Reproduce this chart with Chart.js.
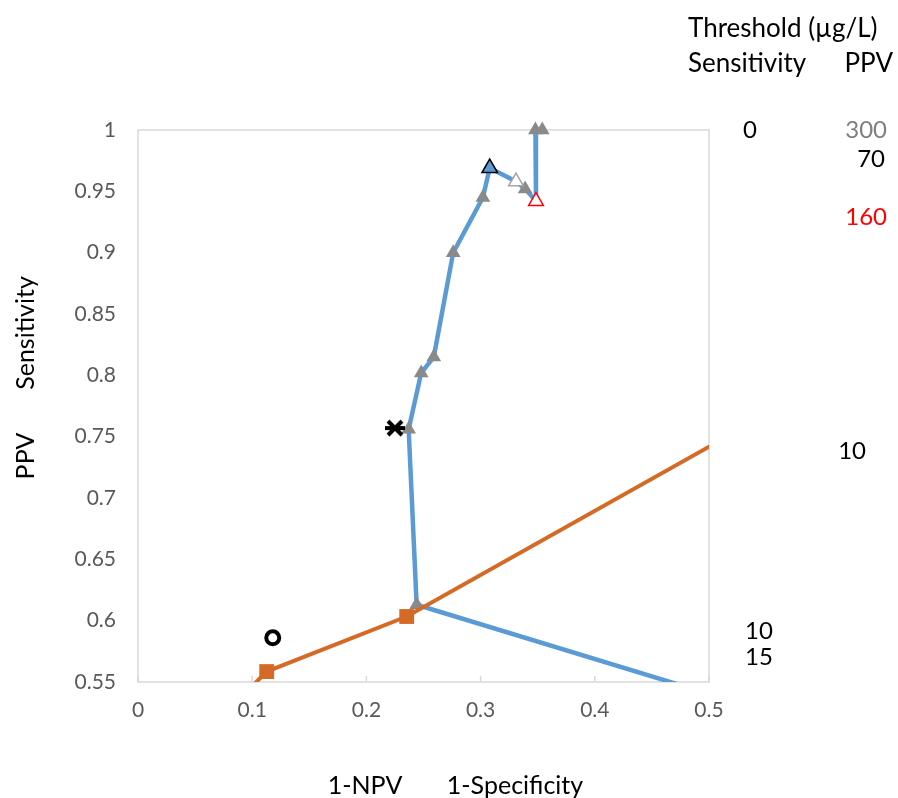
<!DOCTYPE html>
<html>
<head>
<meta charset="utf-8">
<script src="https://cdn.jsdelivr.net/npm/chart.js@4.4.1/dist/chart.umd.min.js"></script>
<style>
  html, body { margin: 0; padding: 0; background: #fff; }
  #wrap { width: 898px; height: 798px; }
</style>
</head>
<body>
<div id="wrap"><canvas id="chart"></canvas></div>
<script>
'use strict';

// ---- data ----
// blue curve (sensitivity vs 1-specificity), in line order
const curveX = [0.354, 0.348, 0.3485, 0.339, 0.331, 0.308, 0.302, 0.276, 0.259, 0.248, 0.237, 0.244, 0.60];
const curveY = [1.000, 1.000, 0.942, 0.952, 0.958, 0.969, 0.945, 0.900, 0.815, 0.802, 0.756, 0.613, 0.512];
// grey triangle markers on the curve
const triX = [0.354, 0.348, 0.339, 0.302, 0.276, 0.259, 0.248, 0.237, 0.244];
const triY = [1.000, 1.000, 0.952, 0.945, 0.900, 0.815, 0.802, 0.756, 0.613];
// highlighted thresholds
const blackTri = [0.308, 0.969];
const openGreyTri = [0.331, 0.958];
const redTri = [0.3485, 0.942];
// orange line (PPV vs 1-NPV)
const ppvX = [0.05, 0.1127, 0.2353, 0.60];
const ppvY = [0.500, 0.5585, 0.6034, 0.794];
// single points
const starPt = [0.225, 0.757];
const circlePt = [0.118, 0.586];

const xTicks = [0, 0.1, 0.2, 0.3, 0.4, 0.5];
const yTicks = [0.55, 0.6, 0.65, 0.7, 0.75, 0.8, 0.85, 0.9, 0.95, 1];

// threshold annotations (µg/L)
const sensLabels = ['0', '10', '15'];
const sensAt = [1.0, 0.591, 0.5705];
const ppvLabels = ['300', '70', '160', '10'];
const ppvAt = [1.0, 0.976, 0.929, 0.738];

// ---- styling / layout ----
const BLUE = '#5B9BD5';
const ORANGE = '#D56A26';
const GREY = '#8A8A8A';
const FONT = 'Lato, "Open Sans", sans-serif';
const ppvColors = ['#7F7F7F', '#000', '#FF0000', '#000'];
const ppvRight = [887, 885, 887, 866];
const sensLeft = [743, 745, 745];

function pts(xs, ys) {
  return xs.map((x, i) => ({ x, y: ys[i] }));
}

function asterisk() {
  const c = document.createElement('canvas');
  c.width = 22; c.height = 22;
  const g = c.getContext('2d');
  g.strokeStyle = '#000';
  g.lineWidth = 4;
  g.beginPath();
  g.moveTo(4, 4); g.lineTo(18, 18);
  g.moveTo(18, 4); g.lineTo(4, 18);
  g.moveTo(1, 11); g.lineTo(21, 11);
  g.stroke();
  return c;
}

const overlay = {
  id: 'overlay',
  beforeDatasetsDraw(chart) {
    const { ctx, chartArea: a, scales: { x } } = chart;
    ctx.save();
    ctx.strokeStyle = '#D9D9D9';
    ctx.lineWidth = 1.5;
    ctx.strokeRect(a.left, a.top, a.width, a.height);
    ctx.beginPath();
    xTicks.forEach(v => {
      const px = x.getPixelForValue(v);
      ctx.moveTo(px, a.bottom);
      ctx.lineTo(px, a.bottom - 6);
    });
    ctx.stroke();
    ctx.restore();
  },
  afterDraw(chart) {
    const { ctx, scales: { y } } = chart;
    ctx.save();
    ctx.font = '26px ' + FONT;
    ctx.fillStyle = '#000';
    ctx.textBaseline = 'alphabetic';
    ctx.textAlign = 'left';
    ctx.fillText('Threshold (µg/L)', 688, 37);
    ctx.fillText('Sensitivity', 688, 72);
    ctx.textAlign = 'right';
    ctx.fillText('PPV', 893, 72);

    ctx.font = '24px ' + FONT;
    ctx.textBaseline = 'middle';
    ctx.textAlign = 'left';
    sensLabels.forEach((t, i) => ctx.fillText(t, sensLeft[i], y.getPixelForValue(sensAt[i])));
    ctx.textAlign = 'right';
    ppvLabels.forEach((t, i) => {
      ctx.fillStyle = ppvColors[i];
      ctx.fillText(t, ppvRight[i], y.getPixelForValue(ppvAt[i]));
    });

    // axis titles
    ctx.font = '25px ' + FONT;
    ctx.fillStyle = '#000';
    ctx.textAlign = 'center';
    ctx.textBaseline = 'alphabetic';
    ctx.fillText('1-NPV', 365, 794);
    ctx.fillText('1-Specificity', 515, 794);
    ctx.translate(34, 0);
    ctx.rotate(-Math.PI / 2);
    ctx.fillText('Sensitivity', -333, 0);
    ctx.fillText('PPV', -456, 0);
    ctx.restore();
  }
};

new Chart(document.getElementById('chart'), {
  type: 'scatter',
  data: {
    datasets: [
      { data: [{ x: circlePt[0], y: circlePt[1] }], pointStyle: 'circle', pointRadius: 6.5,
        backgroundColor: '#fff', borderColor: '#000', borderWidth: 4, clip: false },
      { data: [{ x: starPt[0], y: starPt[1] }], pointStyle: asterisk(), pointRadius: 10, clip: false },
      { data: [{ x: blackTri[0], y: blackTri[1] }], pointStyle: 'triangle', pointRadius: 9,
        backgroundColor: BLUE, borderColor: '#000', borderWidth: 1.5, clip: false },
      { data: [{ x: openGreyTri[0], y: openGreyTri[1] }], pointStyle: 'triangle', pointRadius: 8.5,
        backgroundColor: '#fff', borderColor: '#A6A6A6', borderWidth: 1.5, clip: false },
      { data: [{ x: redTri[0], y: redTri[1] }], pointStyle: 'triangle', pointRadius: 8.5,
        backgroundColor: '#fff', borderColor: '#FF0000', borderWidth: 1.5, clip: false },
      { data: pts(ppvX, ppvY), showLine: true, borderColor: ORANGE, borderWidth: 4,
        pointStyle: 'rect', pointRadius: 10.5, backgroundColor: ORANGE, pointBorderWidth: 0 },
      { data: pts(triX, triY), pointStyle: 'triangle', pointRadius: 8.5,
        backgroundColor: GREY, borderColor: GREY, borderWidth: 0, clip: false },
      { data: pts(curveX, curveY), showLine: true, borderColor: BLUE, borderWidth: 4.5,
        pointRadius: 0 }
    ]
  },
  options: {
    responsive: true,
    maintainAspectRatio: false,
    animation: false,
    events: [],
    layout: { padding: { top: 130, right: 189, left: 0, bottom: 0 } },
    plugins: { legend: { display: false }, tooltip: { enabled: false } },
    scales: {
      x: {
        type: 'linear', min: 0, max: 0.5,
        afterBuildTicks: s => { s.ticks = xTicks.map(v => ({ value: v })); },
        afterFit: s => { s.height = 116; },
        grid: { display: false, drawTicks: false },
        border: { display: false },
        ticks: { padding: 16, color: '#595959', font: { size: 21, family: FONT }, callback: v => String(v) }
      },
      y: {
        type: 'linear', min: 0.55, max: 1,
        afterBuildTicks: s => { s.ticks = yTicks.map(v => ({ value: v })); },
        afterFit: s => { s.width = 138; },
        grid: { display: false, drawTicks: false },
        border: { display: false },
        ticks: { padding: 22, color: '#595959', font: { size: 21, family: FONT }, callback: v => String(v) }
      }
    }
  },
  plugins: [overlay]
});
</script>
</body>
</html>
